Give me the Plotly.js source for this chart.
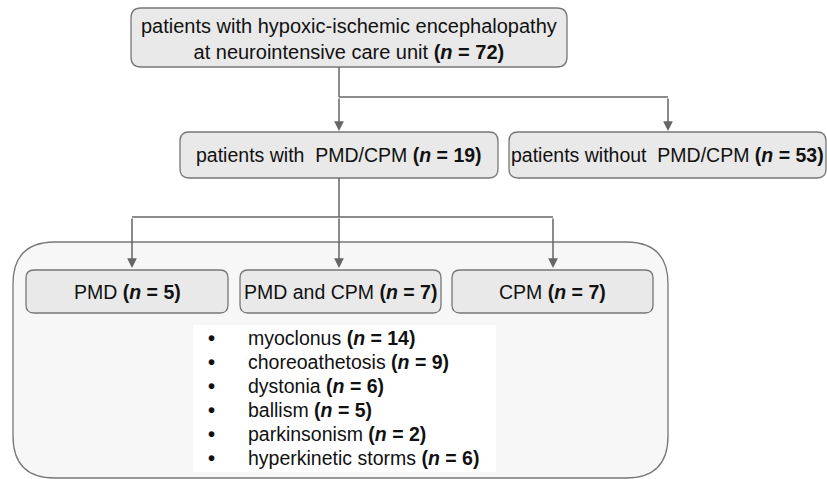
<!DOCTYPE html>
<html>
<head>
<meta charset="utf-8">
<script src="https://cdn.plot.ly/plotly-3.0.1.min.js"></script>
<style>html,body{margin:0;padding:0;background:#fff;}#chart{width:827px;height:479px;}</style>
</head>
<body>
<div id="chart"></div>
<script>
// ---- data ----
var topLabel = ["patients with hypoxic-ischemic encephalopathy", "at neurointensive care unit"];
var topCount = 72;
var groupLabels = ["patients with  PMD/CPM", "patients without  PMD/CPM"];
var groupCounts = [19, 53];
var subLabels = ["PMD", "PMD and CPM", "CPM"];
var subCounts = [5, 7, 7];
var symptomLabels = ["myoclonus", "choreoathetosis", "dystonia", "ballism", "parkinsonism", "hyperkinetic storms"];
var symptomCounts = [14, 9, 6, 5, 2, 6];

// ---- layout geometry (pixels) ----
var FONT = "Liberation Sans, Arial, sans-serif";
var LINE = "#666666";
var BOXFILL = "#e9e9e9";
var BOXLINE = "#777777";

function rrect(x0, y0, x1, y1, r) {
  return "M" + (x0 + r) + "," + y0 +
    " L" + (x1 - r) + "," + y0 + " Q" + x1 + "," + y0 + " " + x1 + "," + (y0 + r) +
    " L" + x1 + "," + (y1 - r) + " Q" + x1 + "," + y1 + " " + (x1 - r) + "," + y1 +
    " L" + (x0 + r) + "," + y1 + " Q" + x0 + "," + y1 + " " + x0 + "," + (y1 - r) +
    " L" + x0 + "," + (y0 + r) + " Q" + x0 + "," + y0 + " " + (x0 + r) + "," + y0 + " Z";
}
function nTxt(c) { return "<b>(<i>n</i> = " + c + ")</b>"; }

var shapes = [];
var annotations = [];

// container
shapes.push({type: "path", xref: "x", yref: "y", path: rrect(13, 242, 668, 478, 42),
  fillcolor: "#f7f7f7", line: {color: "#777", width: 1.3}, layer: "below"});
// white list box
shapes.push({type: "rect", xref: "x", yref: "y", x0: 193, y0: 325, x1: 496, y1: 472,
  fillcolor: "#ffffff", line: {width: 0}, layer: "below"});

// top box
shapes.push({type: "path", xref: "x", yref: "y", path: rrect(131, 8, 567, 67, 10),
  fillcolor: BOXFILL, line: {color: BOXLINE, width: 1.3}, layer: "below"});
annotations.push({x: 349, y: 39, xref: "x", yref: "y", showarrow: false,
  text: topLabel[0] + "<br>" + topLabel[1] + " " + nTxt(topCount),
  font: {family: FONT, size: 20, color: "#111"}, align: "center"});

// group boxes
var gBox = [[180, 498], [509, 826]];
for (var i = 0; i < groupLabels.length; i++) {
  shapes.push({type: "path", xref: "x", yref: "y", path: rrect(gBox[i][0], 132, gBox[i][1], 178, 9),
    fillcolor: BOXFILL, line: {color: BOXLINE, width: 1.3}, layer: "below"});
  annotations.push({x: (gBox[i][0] + gBox[i][1]) / 2, y: 155, xref: "x", yref: "y", showarrow: false,
    text: groupLabels[i] + " " + nTxt(groupCounts[i]),
    font: {family: FONT, size: 19.5, color: "#111"}});
}

// sub boxes
var sBox = [[26, 228], [240, 441], [452, 653]];
for (var j = 0; j < subLabels.length; j++) {
  shapes.push({type: "path", xref: "x", yref: "y", path: rrect(sBox[j][0], 270, sBox[j][1], 313, 8),
    fillcolor: BOXFILL, line: {color: BOXLINE, width: 1.3}, layer: "below"});
  annotations.push({x: (sBox[j][0] + sBox[j][1]) / 2, y: 292, xref: "x", yref: "y", showarrow: false,
    text: subLabels[j] + " " + nTxt(subCounts[j]),
    font: {family: FONT, size: 19.5, color: "#111"}});
}

// symptom list
for (var k = 0; k < symptomLabels.length; k++) {
  var yy = 338 + k * 24;
  annotations.push({x: 211, y: yy, xref: "x", yref: "y", showarrow: false, text: "<b>•</b>",
    font: {family: FONT, size: 20, color: "#111"}});
  annotations.push({x: 246, y: yy, xref: "x", yref: "y", showarrow: false, xanchor: "left",
    text: symptomLabels[k] + " " + nTxt(symptomCounts[k]),
    font: {family: FONT, size: 19.5, color: "#111"}});
}

// connector lines
function seg(x0, y0, x1, y1) {
  shapes.push({type: "line", xref: "x", yref: "y", x0: x0, y0: y0, x1: x1, y1: y1,
    line: {color: LINE, width: 1.5}});
}
function arrow(x, y0, y1) {
  annotations.push({x: x, y: y1, ax: x, ay: y0, xref: "x", yref: "y", axref: "x", ayref: "y",
    showarrow: true, arrowhead: 2, arrowsize: 1.3, arrowwidth: 1.5, arrowcolor: LINE, text: ""});
}
seg(339, 67, 339, 97);
seg(339, 97, 668, 97);
arrow(339, 97, 131);
arrow(668, 97, 131);
seg(339, 178, 339, 217);
seg(132, 217, 553, 217);
arrow(132, 217, 268);
arrow(339, 217, 268);
arrow(553, 217, 268);

var layout = {
  width: 827, height: 479,
  margin: {l: 0, r: 0, t: 0, b: 0},
  paper_bgcolor: "#ffffff", plot_bgcolor: "#ffffff",
  xaxis: {range: [0, 827], visible: false, fixedrange: true},
  yaxis: {range: [479, 0], visible: false, fixedrange: true},
  showlegend: false,
  shapes: shapes,
  annotations: annotations
};
Plotly.newPlot("chart", [], layout, {staticPlot: true, displayModeBar: false});
</script>
</body>
</html>
